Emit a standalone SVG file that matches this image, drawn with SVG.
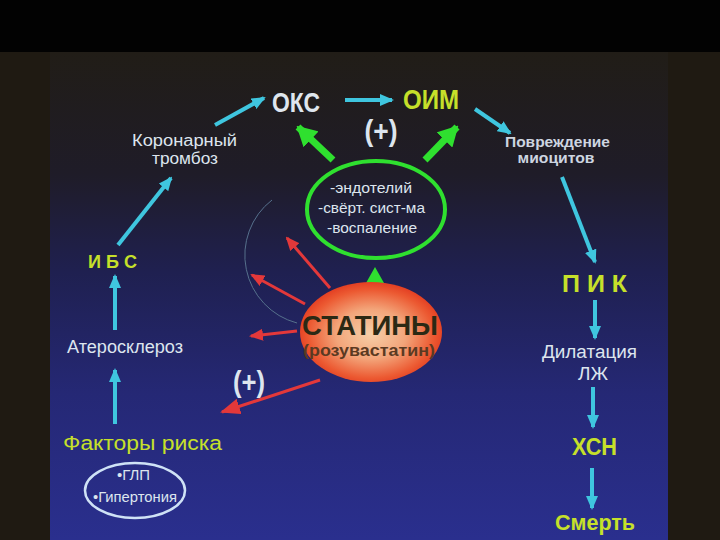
<svg xmlns="http://www.w3.org/2000/svg" width="720" height="540" viewBox="0 0 720 540">
<defs>
<style>
.t{font-family:"Liberation Sans",Arial,sans-serif}
.w{fill:#dde5ee}
.y{fill:#c6e02a;font-weight:bold}
.cy{stroke:#3fc6df;stroke-width:4;fill:none}
.rd{stroke:#e3383a;stroke-width:3;fill:none}
.gr{stroke:#2fe02f;stroke-width:7;fill:none}
</style>
<linearGradient id="bg" x1="0" y1="52" x2="0" y2="540" gradientUnits="userSpaceOnUse">
<stop offset="0" stop-color="#211d17"/>
<stop offset="0.25" stop-color="#1f1c28"/>
<stop offset="0.45" stop-color="#1f2050"/>
<stop offset="0.7" stop-color="#252875"/>
<stop offset="1" stop-color="#2a2f8e"/>
</linearGradient>
<radialGradient id="st" cx="0.5" cy="0.52" r="0.55">
<stop offset="0" stop-color="#f6cfa8"/>
<stop offset="0.45" stop-color="#f3a57a"/>
<stop offset="0.8" stop-color="#ec5a32"/>
<stop offset="1" stop-color="#e0341c"/>
</radialGradient>
<marker id="mc" markerUnits="userSpaceOnUse" markerWidth="14" markerHeight="12" refX="12" refY="6" orient="auto">
<path d="M0,0 L14,6 L0,12 z" fill="#3fc6df"/>
</marker>
<marker id="mr" markerUnits="userSpaceOnUse" markerWidth="14" markerHeight="12" refX="12" refY="6" orient="auto">
<path d="M0,0 L14,6 L0,12 z" fill="#e3383a"/>
</marker>
<marker id="mr2" markerUnits="userSpaceOnUse" markerWidth="20" markerHeight="16" refX="18" refY="8" orient="auto">
<path d="M0,0 L20,8 L0,16 z" fill="#e3383a"/>
</marker>
<marker id="mg" markerUnits="userSpaceOnUse" markerWidth="20" markerHeight="22" refX="18" refY="11" orient="auto">
<path d="M0,0 L20,11 L0,22 z" fill="#2fe02f"/>
</marker>
</defs>
<rect x="0" y="0" width="720" height="540" fill="#1f1a12"/>
<rect x="50" y="52" width="618" height="488" fill="url(#bg)"/>
<rect x="0" y="0" width="720" height="52" fill="#020202"/>

<g id="connectors">
<line class="cy" x1="345" y1="100" x2="392" y2="100" marker-end="url(#mc)"/>
<line class="cy" x1="215" y1="125" x2="264" y2="98" marker-end="url(#mc)"/>
<line class="cy" x1="118" y1="245" x2="171" y2="178" marker-end="url(#mc)"/>
<line class="cy" x1="115" y1="330" x2="115" y2="276" marker-end="url(#mc)"/>
<line class="cy" x1="115" y1="424" x2="115" y2="370" marker-end="url(#mc)"/>
<line class="cy" x1="475" y1="109" x2="510" y2="133" marker-end="url(#mc)"/>
<line class="cy" x1="562" y1="177" x2="595" y2="262" marker-end="url(#mc)"/>
<line class="cy" x1="595" y1="300" x2="595" y2="338" marker-end="url(#mc)"/>
<line class="cy" x1="593" y1="387" x2="593" y2="427" marker-end="url(#mc)"/>
<line class="cy" x1="592" y1="468" x2="592" y2="508" marker-end="url(#mc)"/>
<line class="gr" x1="333" y1="160" x2="298" y2="127" marker-end="url(#mg)"/>
<line class="gr" x1="425" y1="160" x2="457" y2="127" marker-end="url(#mg)"/>
<path d="M375,267 L384,283 L366,283 z" fill="#2fe02f"/>
<path d="M272,200 A70,70 0 0,0 297,323" fill="none" stroke="#56708c" stroke-width="1"/>
<line class="rd" x1="330" y1="288" x2="287" y2="238" marker-end="url(#mr)"/>
<line class="rd" x1="305" y1="304" x2="252" y2="275" marker-end="url(#mr)"/>
<line class="rd" x1="297" y1="331" x2="251" y2="336" marker-end="url(#mr)"/>
<line class="rd" x1="320" y1="380" x2="222" y2="412" stroke-width="5" marker-end="url(#mr2)"/>
</g>

<g id="oks"><text class="t" x="296" y="112" font-size="27" font-weight="bold" fill="#dfe6ee" text-anchor="middle" textLength="48" lengthAdjust="spacingAndGlyphs">ОКС</text></g>
<g id="oim"><text class="t y" x="431" y="109" font-size="27" text-anchor="middle" textLength="56" lengthAdjust="spacingAndGlyphs">ОИМ</text></g>
<g id="plus1"><text class="t w" x="381" y="141" font-size="29" font-weight="bold" text-anchor="middle" textLength="33" lengthAdjust="spacingAndGlyphs">(+)</text></g>
<g id="koronar"><text class="t w" font-size="16" text-anchor="middle"><tspan x="184.5" y="146" textLength="105" lengthAdjust="spacingAndGlyphs">Коронарный</tspan><tspan x="185" y="164" textLength="66" lengthAdjust="spacingAndGlyphs">тромбоз</tspan></text></g>
<g id="ibs"><text class="t y" x="112.5" y="268" font-size="18" text-anchor="middle" textLength="49" lengthAdjust="spacingAndGlyphs">И Б С</text></g>
<g id="ateroskleroz"><text class="t w" x="125" y="353" font-size="18" text-anchor="middle" textLength="116" lengthAdjust="spacingAndGlyphs">Атеросклероз</text></g>
<g id="faktory"><text class="t" x="142.5" y="450" font-size="20" fill="#c6e02a" text-anchor="middle" textLength="159" lengthAdjust="spacingAndGlyphs">Факторы риска</text></g>
<g id="riski">
<ellipse cx="135" cy="490.5" rx="50" ry="27.5" fill="none" stroke="#cfe2f6" stroke-width="2.5"/>
<text class="t w" font-size="14" text-anchor="middle"><tspan x="133.5" y="480" textLength="33" lengthAdjust="spacingAndGlyphs">•ГЛП</tspan><tspan x="135" y="502" textLength="84" lengthAdjust="spacingAndGlyphs">•Гипертония</tspan></text>
</g>
<g id="povrezhdenie"><text class="t" font-size="14" font-weight="bold" fill="#cdd5e0" text-anchor="middle"><tspan x="557.5" y="147" textLength="105" lengthAdjust="spacingAndGlyphs">Повреждение</tspan><tspan x="556" y="163" textLength="77" lengthAdjust="spacingAndGlyphs">миоцитов</tspan></text></g>
<g id="pik"><text class="t y" x="594.5" y="292" font-size="23" text-anchor="middle" textLength="65" lengthAdjust="spacingAndGlyphs">П И К</text></g>
<g id="dilatacia"><text class="t w" font-size="18" text-anchor="middle"><tspan x="589.5" y="358" textLength="95" lengthAdjust="spacingAndGlyphs">Дилатация</tspan><tspan x="593" y="380" textLength="30" lengthAdjust="spacingAndGlyphs">ЛЖ</tspan></text></g>
<g id="hsn"><text class="t y" x="594.5" y="455" font-size="23" text-anchor="middle" textLength="45" lengthAdjust="spacingAndGlyphs">ХСН</text></g>
<g id="smert"><text class="t y" x="595" y="530" font-size="22" text-anchor="middle" textLength="80" lengthAdjust="spacingAndGlyphs">Смерть</text></g>
<g id="mehanizmy">
<ellipse cx="376" cy="209.5" rx="69" ry="48.5" fill="none" stroke="#2fe02f" stroke-width="4"/>
<text class="t w" font-size="15" text-anchor="middle"><tspan x="371" y="193" textLength="82" lengthAdjust="spacingAndGlyphs">-эндотелий</tspan><tspan x="371.5" y="213" textLength="107" lengthAdjust="spacingAndGlyphs">-свёрт. сист-ма</tspan><tspan x="372" y="233" textLength="90" lengthAdjust="spacingAndGlyphs">-воспаление</tspan></text>
</g>
<g id="statiny">
<ellipse cx="371" cy="332" rx="71" ry="50" fill="url(#st)"/>
<text class="t" x="370" y="335" font-size="28" font-weight="bold" fill="#2b2914" text-anchor="middle" textLength="136" lengthAdjust="spacingAndGlyphs">СТАТИНЫ</text>
<text class="t" x="369" y="356" font-size="16" font-weight="bold" fill="#5b3a22" text-anchor="middle" textLength="132" lengthAdjust="spacingAndGlyphs">(розувастатин)</text>
</g>
<g id="plus2"><text class="t w" x="249" y="392" font-size="29" font-weight="bold" text-anchor="middle" textLength="32" lengthAdjust="spacingAndGlyphs">(+)</text></g>
</svg>
